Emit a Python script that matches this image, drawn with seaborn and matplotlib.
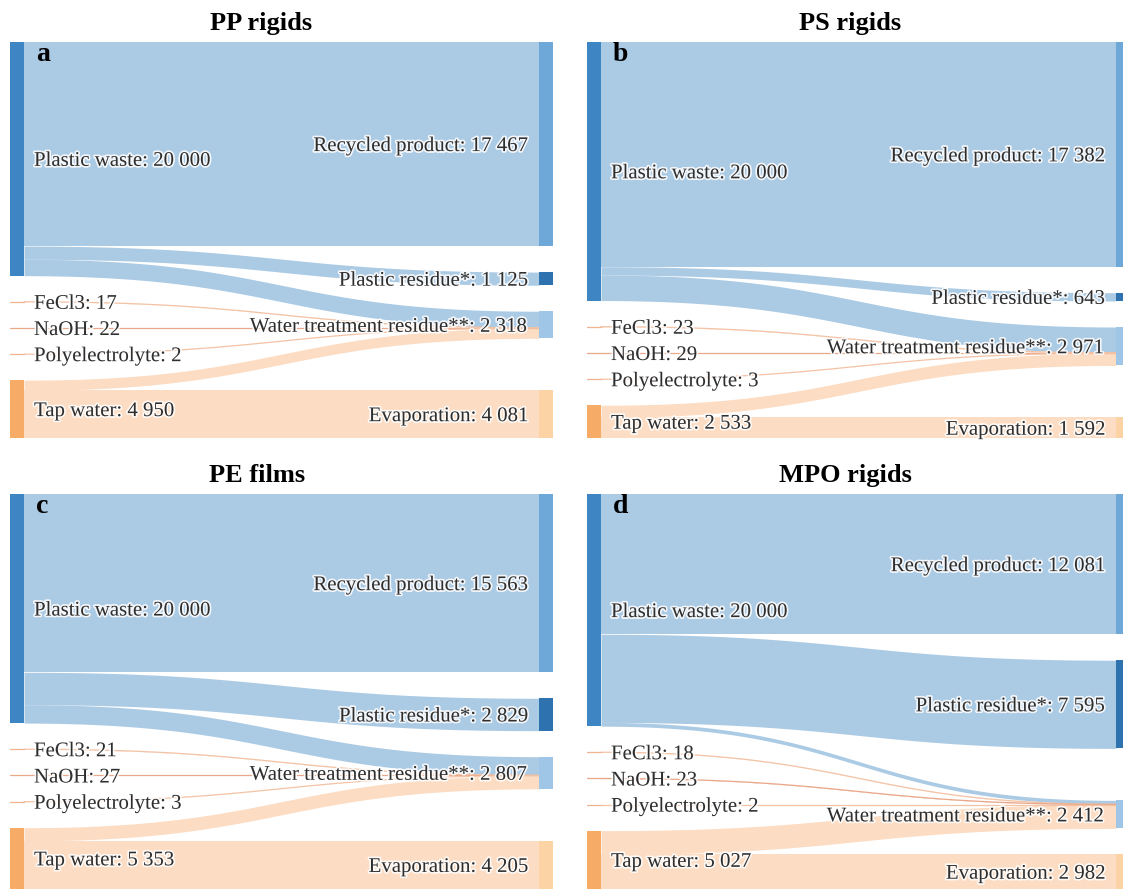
import numpy as np
import matplotlib
matplotlib.use("Agg")
import matplotlib.pyplot as plt
import matplotlib.patheffects as pe
import seaborn as sns

sns.set_theme(style="white")
plt.rcParams["font.family"] = ["Liberation Serif", "DejaVu Serif"]

# ---------------------------------------------------------------- data
panel_titles = ["PP rigids", "PS rigids", "PE films", "MPO rigids"]
panel_letters = ["a", "b", "c", "d"]

input_nodes = ["Plastic waste", "FeCl3", "NaOH", "Polyelectrolyte", "Tap water"]
output_nodes = ["Recycled product", "Plastic residue*",
                "Water treatment residue**", "Evaporation"]

WTR = "Water treatment residue**"
link_sources = ["Plastic waste", "Plastic waste", "Plastic waste",
                "FeCl3", "NaOH", "Polyelectrolyte", "Tap water", "Tap water"]
link_targets = ["Recycled product", "Plastic residue*", WTR,
                WTR, WTR, WTR, WTR, "Evaporation"]

# mass flows (kg) per material stream, in link order
pp_rigids = [17467, 1125, 1408, 17, 22, 2, 869, 4081]
ps_rigids = [17382, 643, 1975, 23, 29, 3, 941, 1592]
pe_films = [15563, 2829, 1608, 21, 27, 3, 1148, 4205]
mpo_rigids = [12081, 7595, 324, 18, 23, 2, 2045, 2982]
panel_values = [pp_rigids, ps_rigids, pe_films, mpo_rigids]

# ---------------------------------------------------------------- styling
node_colors = {
    "Plastic waste": "#3d85c3",
    "FeCl3": "#efb28f",
    "NaOH": "#e9a886",
    "Polyelectrolyte": "#efb28f",
    "Tap water": "#f6ac66",
    "Recycled product": "#6da8d8",
    "Plastic residue*": "#2f72b0",
    WTR: "#9fc6e6",
    "Evaporation": "#fcd3a4",
}
link_colors = {
    "Plastic waste": "#abcae4",
    "FeCl3": "#f4c3a6",
    "NaOH": "#eaa88a",
    "Polyelectrolyte": "#f4c3a6",
    "Tap water": "#fcdcc2",
}
text_color = "#2e2e2e"
halo = [pe.withStroke(linewidth=2.5, foreground="white", alpha=0.85)]

FIG_W, FIG_H = 1123, 889
PANEL_W = 543
NODE_W = 14
PAD_PX = 26
LABEL_GAP = 10
# panel frames in pixels: left, top, height
frames = [(10, 42, 396), (587, 42, 396), (10, 494, 395), (587, 494, 395)]
title_x = [261, 850, 257, 845]


def fmt(v):
    return f"{v:,}".replace(",", " ")


def sankey_layout(values, height_px):
    out_tot = {n: sum(v for s, v in zip(link_sources, values) if s == n)
               for n in input_nodes}
    in_tot = {n: sum(v for t, v in zip(link_targets, values) if t == n)
              for n in output_nodes}
    left_total = sum(out_tot.values())
    k = (height_px - PAD_PX * (len(input_nodes) - 1)) / left_total
    pad = PAD_PX / k
    top = {}
    y = 0.0
    for n in input_nodes:
        top[n] = y
        y += out_tot[n] + pad
    span = y - pad

    n_links = len(values)
    # offsets at the source side, ordered by target position
    src_off = {}
    cursor = {n: top[n] for n in input_nodes}
    for i in sorted(range(n_links), key=lambda i: output_nodes.index(link_targets[i])):
        s = link_sources[i]
        src_off[i] = cursor[s]
        cursor[s] += values[i]

    # right column: centre each node on its incoming flows, then resolve overlaps
    for n in output_nodes:
        idx = [i for i in range(n_links) if link_targets[i] == n]
        c = sum((src_off[i] + values[i] / 2) * values[i] for i in idx) / in_tot[n]
        top[n] = c - in_tot[n] / 2
    prev = -pad
    for n in output_nodes:
        top[n] = max(top[n], prev + pad)
        prev = top[n] + in_tot[n]
    nxt = span + pad
    for n in reversed(output_nodes):
        top[n] = min(top[n], nxt - pad - in_tot[n])
        nxt = top[n]

    # offsets at the target side, ordered by source position
    dst_off = {}
    cursor = {n: top[n] for n in output_nodes}
    for i in sorted(range(n_links), key=lambda i: input_nodes.index(link_sources[i])):
        t = link_targets[i]
        dst_off[i] = cursor[t]
        cursor[t] += values[i]
    return out_tot, in_tot, top, src_off, dst_off, span, k


fig = plt.figure(figsize=(FIG_W / 100, FIG_H / 100), dpi=100)
fig.patch.set_facecolor("white")

t = np.linspace(0, 1, 120)
x0, x1 = NODE_W, PANEL_W - NODE_W
xm = (x0 + x1) / 2
bx = (1 - t) ** 3 * x0 + 3 * (1 - t) ** 2 * t * xm + 3 * (1 - t) * t ** 2 * xm + t ** 3 * x1
blend = 3 * (1 - t) * t ** 2 + t ** 3  # weight of the target end in a horizontal-tangent cubic

for p, values in enumerate(panel_values):
    left_px, top_px, h_px = frames[p]
    ax = fig.add_axes([left_px / FIG_W, 1 - (top_px + h_px) / FIG_H,
                       PANEL_W / FIG_W, h_px / FIG_H])
    out_tot, in_tot, top, src_off, dst_off, span, k = sankey_layout(values, h_px)
    ax.set_xlim(0, PANEL_W)
    ax.set_ylim(span, 0)
    ax.axis("off")

    # links
    for i, v in enumerate(values):
        s = link_sources[i]
        ya, yb = src_off[i], dst_off[i]
        y_top = ya + (yb - ya) * blend
        ax.fill_between(bx, y_top, y_top + v, color=link_colors[s], lw=0, zorder=1)
        if v * k < 1.5:
            ax.plot(bx, y_top + v / 2, color=link_colors[s], lw=0.9, zorder=1.5)

    # nodes
    for n in input_nodes:
        ax.bar(0, out_tot[n], bottom=top[n], width=NODE_W, align="edge",
               color=node_colors[n], lw=0, zorder=2)
        if out_tot[n] * k < 1.5:
            ax.plot([0, NODE_W], [top[n] + out_tot[n] / 2] * 2,
                    color=node_colors[n], lw=0.9, zorder=2)
        ax.text(NODE_W + LABEL_GAP, top[n] + out_tot[n] / 2, f"{n}: {fmt(out_tot[n])}",
                ha="left", va="center_baseline", fontsize=15, color=text_color,
                path_effects=halo, zorder=5)
    for n in output_nodes:
        ax.bar(PANEL_W - NODE_W, in_tot[n], bottom=top[n], width=NODE_W, align="edge",
               color=node_colors[n], lw=0, zorder=2)
        ax.text(PANEL_W - NODE_W - LABEL_GAP, top[n] + in_tot[n] / 2,
                f"{n}: {fmt(in_tot[n])}", ha="right", va="center_baseline",
                fontsize=15, color=text_color, path_effects=halo, zorder=5)

    # panel letter and title
    ax.annotate(panel_letters[p], xy=(26 / PANEL_W, 1), xycoords="axes fraction",
                xytext=(0, -19), textcoords="offset pixels", ha="left", va="baseline",
                fontsize=20, fontweight="bold", color="black", zorder=6)
    fig.text(title_x[p] / FIG_W, 1 - (top_px - 12) / FIG_H, panel_titles[p],
             ha="center", va="baseline", fontsize=19, fontweight="bold", color="black")

fig.savefig("out.png", dpi=100, facecolor="white")
